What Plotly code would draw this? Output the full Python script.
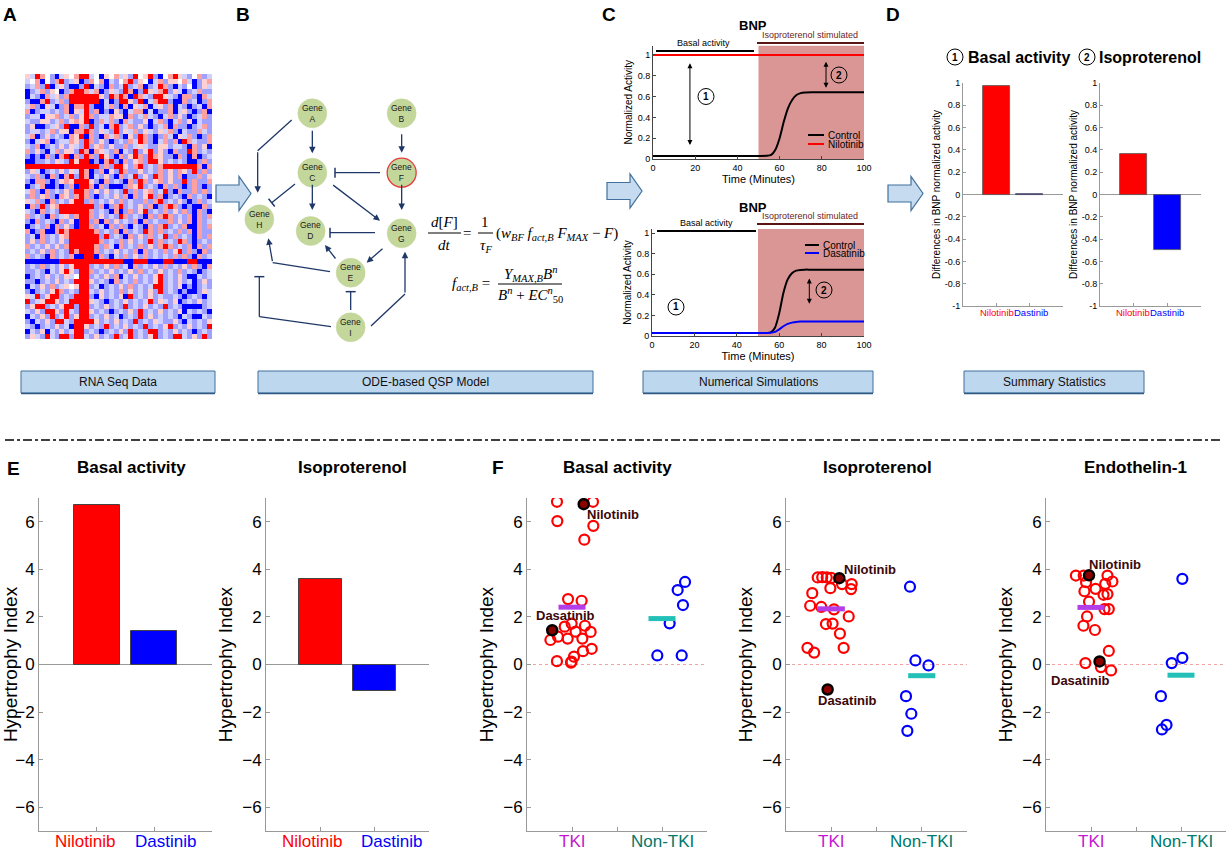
import plotly.graph_objects as go

W, H = 1227, 852
def X(px): return px / W
def Y(py): return 1 - py / H

FONT = "Liberation Sans"

# ---------------- DATA ----------------
# Panel A heatmap (estimated levels): B strong blue, b blue, c pale blue, . white, p pale red, r red, R strong red
heat_rows = [
    "pcRr.bBcp.rRRc.Bp.rcpbR.pRbB.rRpcb.rbc",
    "c.rB.brRbcpBbr.rBcb.rRbp.Bcrbpp.rcBbpr",
    "bcrbRBcpbBBbRBcbBrbcRbcrBbcRrbBcb.Bbpc",
    "Bbcrbp.BbrRRrcrBbpcbRrBbRpcrRbpcBbcrbb",
    "BcbBrcpbrRRRRRRpbRrRrBRrcbRRpcbBrrbBrc",
    "bBBrRbcrbRRRRRRBcBbRRpbRBcrRRbBBrbcBbr",
    "crbBpcBbrBrrRbBBcrbBrBpcrBcpbrBcbBbcBr",
    "rBbccbcbrBpcRbrBbBpbBcrrBcBbbrBcpbBbrB",
    "bccBpprbcrbpRrbccrppBrbcrcbBcrbpbBbcrb",
    "cbbppbcrbprpRBbrcrbBrcbbpBcrbBcrbpBcbb",
    "bpBBbcpbRBBrbRbcBrRbcrbpbBbcrBrbbBbcrb",
    "bccbcrbppBrrRrbpcbRbpcrbpcbpcrbBcbbrcb",
    "crBbpbcbBrpRBrbBrcrbBpbRrbBbrcBpcrbBbr",
    "bBcprBbccrpbRrbpbBbcbrcRrbBcrbrBRrcbbr",
    "cbrBbcbpbpcbRbprbpbbrbcpcbbppbccbBrbpB",
    "rbpbBcrbppbRrBrpcbrBcbRbpRbpbBrbbRrbcb",
    "bBbBrbBrRBrbRrbRpbBrbpRrbRrpbbBrbBrBbc",
    "BBbbcbpcbRpRRBbBrRbBrbprbRRpbcbcbBBbrb",
    "RRRRRRRRRRRRRRRbrbRRpbrRbcbrRRRRRRRrBr",
    "bpcBbcbpbpcRrBbrBpbRrbbpbcbrbpbrpbRbrb",
    "cbrbBrbBrRbRrBcbpbBrbcRbpbRrbpbrBbbrbp",
    "bBrrbBbprpRRRpbBrbcbBrbRrbprbpbbRbrbbr",
    "BbcrBBbBbrBRRrBrbBBBbrpRbcbBrbrbBbrbBb",
    "crbBrbcbpbRRrbpbpbcbRbrbprbcRbBrbbrbrb",
    "brbprbBrpbrRrbBbcbpbrBrbpRbrBbcbBrbcbB",
    "pcrbBrbcbpRRbrbcbpbrbcbbrbrRbcbpbBbrbc",
    "BrbRbprRRRRRRRbrBbrRbcbpbrBbrRrbBbBBrb",
    "cbBrbcbRRRRRRrbcbBrBbrbpRbcbrbpbrbBrbB",
    "rbcbBrbcpbrRRrbpbcbRrbcbBrbrRrbcbrBrbr",
    "bBrbcbBrbpBRRbrBrbpbcbrBrbcbbrbpbrBrbc",
    "BbcbrBrbpbBRRrbcBrbrbBcbBrbrRbcbrBBrbr",
    "rBbrBBrRrRRRRRrbcbrBrbcbRrbrbcbrbrBrbb",
    "bcBrbcbprRRRRRRbRbcbBrbpbrbcRbrbcbBrbr",
    "bpbrbcbpbRRRRRRrbcbrbpbcbRbrbcbRrbBbcb",
    "rbcbpbpbrRRRRRrbrcBrbcbrbpbrRrbcbrBrbr",
    "bcbpbrbcbRrRRRrbcbpbcbrBrbcbrbpRbrbBrb",
    "rbcbBrbcbrBBRRBrbBcbrbpbrbcbcbrbrbBrbc",
    "BBBBBBBRRRRRRRRRRRRRBBRRRBBBRRBBBRRBBB",
    "bcbrbcbpbpRRRbcbpbrbcBrbcbpbrbcbpbrbBr",
    "bbcbBcbpRpbRRrbcbpbcbpbrbcbpbcbrbcbBbc",
    "Bbcbpbcbpc.RRbcbpbrBcbpbcbpRbcbpbBBcbc",
    "bbBbcbpbcbRRRpbcbBrbcbrbcbpRbcbpbcBbpb",
    "Bcbpbrbcp.pRRbcBbcbpbrbcbcRRbcbpBbBbcb",
    "bBbcbpRrbcbRRcbpbcbrbpbcbpbRbcbBbBBbpc",
    "pcRbpRRbcbRRRbBpbcbpBRbcbpbcbbcbBbcbBc",
    "RbcpRRpbcRRRRpcbBbcbpbcbcRbpcbpBbcbpbc",
    "bpRRbcbpRRbRRbcbpbcbRbcbpbcbRbcbBBBBbc",
    "cbpbRRpbRcbRRpbcbBbcbpbRbcbpbcbpBcbcbB",
    "BcbpbRbcRbpRRbcbpbcBbcbRbpbcbcbBcbBBcb",
    "bBcbpbRRcbRRRRpbcbpbcbRbcbpcbbpbBcbcbp",
    "cbBbcbpbcBRRpbcbRbcbpbcbRbcbpRbcbpbcbR",
    "BcbpBcbpbcRRbcbBbcbpbRbcbRRbcbpbcbBbcb",
    "bpcbRcbRRbRRcbpbcbRbcRbcbpRbcbRRcbpbRb",
]
heat_levels = {"B": -2, "b": -1, "c": -0.5, ".": 0, "p": 0.5, "r": 1, "R": 2}

# Panel C simulations
sim_time = [0, 50, 54, 56, 58, 60, 62, 64, 66, 68, 70, 72, 75, 100]
ctrl_top = [0.03, 0.03, 0.031, 0.04, 0.09, 0.20, 0.36, 0.49, 0.57, 0.615, 0.633, 0.64, 0.642, 0.642]
nilo_time = [0, 100]
nilo_top = [1.0, 1.0]
ctrl_bot = [0.03, 0.03, 0.03, 0.035, 0.08, 0.22, 0.42, 0.55, 0.61, 0.635, 0.642, 0.645, 0.645, 0.645]
dasa_bot = [0.03, 0.03, 0.03, 0.031, 0.04, 0.065, 0.095, 0.118, 0.13, 0.137, 0.14, 0.142, 0.142, 0.142]

# Panel D and E bars
drug_pos = [1, 2]
drug_names = ["Nilotinib", "Dastinib"]
drug_colors = ["#ff0000", "#0000ff"]
d_basal = [0.97, 0.004]
d_iso = [0.36, -0.50]
e_basal = [6.7, 1.4]
e_iso = [3.6, -1.1]

# Panel F scatter (x = group position with spread, y = hypertrophy index)
f_groups = ["TKI", "Non-TKI"]
f_group_colors = ["#c218d0", "#00786c"]
fb_tki_x = [0.833, 1.233, 0.837, 1.237, 1.137, 0.956, 1.107, 0.76, 0.844, 0.919, 0.996, 1.04, 1.144,
            1.207, 0.952, 1.115, 1.022, 1.122, 1.219, 0.833, 0.989, 0.995]
fb_tki_y = [6.84, 6.84, 6.03, 5.83, 5.25, 2.75, 2.68, 1.03, 1.17, 1.59, 1.72, 1.38, 1.63,
            1.37, 1.09, 1.09, 0.33, 0.56, 0.66, 0.14, 0.08, 0.12]
fb_non_x = [2.256, 2.174, 2.233, 2.085, 1.948, 2.219]
fb_non_y = [3.47, 3.13, 2.50, 1.73, 0.38, 0.38]
fb_nilo = [1.13, 6.74]
fb_dasa = [0.78, 1.44]
fb_means = [2.41, 1.93]

fi_tki_x = [0.85, 0.90, 0.95, 1.0, 0.99, 1.119, 1.226, 1.219, 0.79, 0.767, 0.89, 1.03, 1.193,
            0.941, 1.015, 1.096, 1.137, 0.737, 0.811]
fi_tki_y = [3.66, 3.67, 3.66, 3.64, 3.21, 3.38, 3.38, 3.17, 3.0, 2.47, 2.42, 2.32, 2.02,
            1.70, 1.72, 1.30, 0.70, 0.70, 0.50]
fi_non_x = [1.870, 1.93, 2.074, 1.826, 1.885, 1.841]
fi_non_y = [3.27, 0.17, -0.04, -1.33, -2.07, -2.79]
fi_nilo = [1.089, 3.63]
fi_dasa = [0.96, -1.05]
fi_means = [2.34, -0.47]

fe_tki_x = [0.832, 0.919, 1.183, 0.945, 1.238, 1.158, 1.051, 0.927, 1.183, 1.139, 0.978, 1.150,
            1.198, 0.956, 0.916, 1.044, 1.198, 0.938, 1.11, 1.223]
fe_tki_y = [3.74, 3.74, 3.74, 3.46, 3.49, 3.39, 3.18, 3.08, 2.96, 2.93, 2.64, 2.33,
            2.33, 2.02, 1.63, 1.45, 0.57, 0.06, -0.11, -0.25]
fe_non_x = [2.015, 2.015, 1.897, 1.777, 1.839, 1.788]
fe_non_y = [3.60, 0.28, 0.06, -1.33, -2.54, -2.73]
fe_nilo = [0.978, 3.75]
fe_dasa = [1.095, 0.13]
fe_means = [2.40, -0.45]

# ---------------- FIGURE ----------------
fig = go.Figure()
shapes = []
annotations = []

def line_px(x0, y0, x1, y1, color="black", width=1, dash=None, layer="above"):
    d = dict(color=color, width=width)
    if dash:
        d["dash"] = dash
    shapes.append(dict(type="line", xref="paper", yref="paper", x0=X(x0), y0=Y(y0),
                       x1=X(x1), y1=Y(y1), line=d, layer=layer))

def text_px(x, y, txt, size=12, color="black", xanchor="center", yanchor="middle", family=FONT):
    annotations.append(dict(x=X(x), y=Y(y), xref="paper", yref="paper", text=txt, showarrow=False,
                            xanchor=xanchor, yanchor=yanchor, font=dict(size=size, color=color, family=family)))

def arrow_px(x0, y0, x1, y1, color, width=1.3, head=2, size=1.0):
    annotations.append(dict(x=X(x1), y=Y(y1), xref="paper", yref="paper", ax=x0 - x1, ay=y0 - y1,
                            axref="pixel", ayref="pixel", text="", showarrow=True, arrowhead=head,
                            arrowsize=size, arrowwidth=width, arrowcolor=color, standoff=0, startstandoff=0))

def circle_px(cx, cy, r, fill=None, color="black", width=1, layer="above"):
    shapes.append(dict(type="circle", xref="paper", yref="paper", x0=X(cx - r), x1=X(cx + r),
                       y0=Y(cy + r), y1=Y(cy - r), fillcolor=fill or "rgba(0,0,0,0)",
                       line=dict(color=color, width=width), layer=layer))

def rect_px(x0, y0, x1, y1, fill, color, width=1, layer="above"):
    shapes.append(dict(type="rect", xref="paper", yref="paper", x0=X(x0), x1=X(x1), y0=Y(y1), y1=Y(y0),
                       fillcolor=fill, line=dict(color=color, width=width), layer=layer))

def block_arrow(x0, xh, x1, yc, bh, hh):
    pts = [(x0, yc - bh / 2), (xh, yc - bh / 2), (xh, yc - hh / 2), (x1, yc), (xh, yc + hh / 2),
           (xh, yc + bh / 2), (x0, yc + bh / 2)]
    path = "M " + " L ".join(f"{X(a):.5f},{Y(b):.5f}" for a, b in pts) + " Z"
    shapes.append(dict(type="path", xref="paper", yref="paper", path=path, fillcolor="#c6dbef",
                       line=dict(color="#41719c", width=1.2), layer="above"))

# ---- Panel A heatmap
z = [[heat_levels.get(c, 0) for c in row[:38].ljust(38, ".")] for row in heat_rows]
fig.add_trace(go.Heatmap(z=z, xaxis="x", yaxis="y", zmin=-2, zmax=2, showscale=False, hoverinfo="skip",
                         colorscale=[[0, "#0000ff"], [0.25, "#a0a0ff"], [0.5, "#ffffff"],
                                     [0.75, "#ffa0a0"], [1, "#ff0000"]]))

# ---- Panel C
fig.add_trace(go.Scatter(x=sim_time, y=ctrl_top, mode="lines", line=dict(color="black", width=2, shape="spline", smoothing=0.6),
                         xaxis="x2", yaxis="y2", showlegend=False))
fig.add_trace(go.Scatter(x=nilo_time, y=nilo_top, mode="lines", line=dict(color="#ff0000", width=2),
                         xaxis="x2", yaxis="y2", showlegend=False))
fig.add_trace(go.Scatter(x=sim_time, y=ctrl_bot, mode="lines", line=dict(color="black", width=2, shape="spline", smoothing=0.6),
                         xaxis="x3", yaxis="y3", showlegend=False))
fig.add_trace(go.Scatter(x=sim_time, y=dasa_bot, mode="lines", line=dict(color="#0000ff", width=2, shape="spline", smoothing=0.6),
                         xaxis="x3", yaxis="y3", showlegend=False))
for xa, ya, top in (("x2", "y2", 1.09), ("x3", "y3", 1.04)):
    shapes.append(dict(type="rect", xref=xa, yref=ya, x0=50, x1=100, y0=0, y1=top, fillcolor="#d99694",
                       line=dict(width=0), layer="below"))

# ---- Panel D bars
fig.add_trace(go.Bar(x=drug_pos, y=d_basal, marker=dict(color=drug_colors, line=dict(color="#555", width=0.8)),
                     width=0.8, xaxis="x4", yaxis="y4", showlegend=False))
fig.add_trace(go.Bar(x=drug_pos, y=d_iso, marker=dict(color=drug_colors, line=dict(color="#555", width=0.8)),
                     width=0.8, xaxis="x5", yaxis="y5", showlegend=False))
# ---- Panel E bars
fig.add_trace(go.Bar(x=drug_pos, y=e_basal, marker=dict(color=drug_colors, line=dict(color="#444", width=1)),
                     width=0.8, xaxis="x6", yaxis="y6", showlegend=False))
fig.add_trace(go.Bar(x=drug_pos, y=e_iso, marker=dict(color=drug_colors, line=dict(color="#444", width=1)),
                     width=0.8, xaxis="x7", yaxis="y7", showlegend=False))

# ---- Panel F scatter
F_SETS = [
    ("x8", "y8", fb_tki_x, fb_tki_y, fb_non_x, fb_non_y, fb_nilo, fb_dasa, fb_means),
    ("x9", "y9", fi_tki_x, fi_tki_y, fi_non_x, fi_non_y, fi_nilo, fi_dasa, fi_means),
    ("x10", "y10", fe_tki_x, fe_tki_y, fe_non_x, fe_non_y, fe_nilo, fe_dasa, fe_means),
]
for xa, ya, tx, ty, nx, ny, nilo, dasa, means in F_SETS:
    shapes.append(dict(type="line", xref=xa, yref=ya, x0=0.5, x1=2.5, y0=0, y1=0,
                       line=dict(color="#f3a3a3", width=1, dash="dot"), layer="below"))
    fig.add_trace(go.Scatter(x=tx, y=ty, mode="markers", xaxis=xa, yaxis=ya, showlegend=False,
                             marker=dict(symbol="circle-open", size=10, color="#ff0000", line=dict(width=2.2))))
    fig.add_trace(go.Scatter(x=nx, y=ny, mode="markers", xaxis=xa, yaxis=ya, showlegend=False,
                             marker=dict(symbol="circle-open", size=10, color="#0000ff", line=dict(width=2.2))))
    fig.add_trace(go.Scatter(x=[1 - 0.15, 1 + 0.15], y=[means[0], means[0]], mode="lines", xaxis=xa, yaxis=ya,
                             showlegend=False, line=dict(color="#b33de8", width=5)))
    fig.add_trace(go.Scatter(x=[2 - 0.15, 2 + 0.15], y=[means[1], means[1]], mode="lines", xaxis=xa, yaxis=ya,
                             showlegend=False, line=dict(color="#22c0b6", width=5)))
    fig.add_trace(go.Scatter(x=[nilo[0], dasa[0]], y=[nilo[1], dasa[1]], mode="markers", xaxis=xa, yaxis=ya,
                             showlegend=False, marker=dict(symbol="circle", size=10, color="#8a0000",
                                                           line=dict(color="black", width=2.5))))

# ---------------- AXES ----------------
def dom_x(a, b): return [X(a), X(b)]
def dom_y(top, bottom): return [Y(bottom), Y(top)]

layout_axes = {}
layout_axes["xaxis"] = dict(domain=dom_x(25, 212), anchor="y", visible=False, range=[-0.5, 37.5])
layout_axes["yaxis"] = dict(domain=dom_y(74, 339), anchor="x", visible=False, range=[52.5, -0.5])

c_tick = dict(size=9, color="black", family=FONT)
for i, (xd, yd, ytop) in {2: ((653, 864), (45.6, 159), 1.09), 3: ((652, 864), (229, 336), 1.04)}.items():
    layout_axes[f"xaxis{i}"] = dict(domain=dom_x(*xd), anchor=f"y{i}", range=[0, 100], showline=True,
                                    linecolor="#444", ticks="inside", ticklen=3, tickcolor="#444",
                                    tickvals=[0, 20, 40, 60, 80, 100], tickfont=c_tick, showgrid=False,
                                    zeroline=False, tickangle=0,
                                    title=dict(text="Time (Minutes)", font=dict(size=11, family=FONT), standoff=1))
    layout_axes[f"yaxis{i}"] = dict(domain=dom_y(*yd), anchor=f"x{i}", range=[0, ytop], showline=True,
                                    linecolor="#444", ticks="inside", ticklen=3, tickcolor="#444",
                                    tickvals=[0, 0.2, 0.4, 0.6, 0.8, 1], ticktext=["0", "0.2", "0.4", "0.6", "0.8", "1"],
                                    tickfont=c_tick, showgrid=False, zeroline=False,
                                    title=dict(text="Normalized Activity", font=dict(size=10, family=FONT), standoff=3))

d_vals = [-1, -0.8, -0.6, -0.4, -0.2, 0, 0.2, 0.4, 0.6, 0.8, 1]
d_text = ["-1", "-0.8", "-0.6", "-0.4", "-0.2", "0", "0.2", "0.4", "0.6", "0.8", "1"]
for i, xd in {4: (963, 1063), 5: (1100, 1201)}.items():
    layout_axes[f"xaxis{i}"] = dict(domain=dom_x(*xd), anchor=f"y{i}", range=[0, 3], showline=True,
                                    linecolor="#999", ticks="inside", ticklen=3, tickcolor="#999",
                                    tickvals=drug_pos, showticklabels=False, showgrid=False, zeroline=False)
    layout_axes[f"yaxis{i}"] = dict(domain=dom_y(83, 306), anchor=f"x{i}", range=[-1, 1], showline=True,
                                    linecolor="#999", ticks="inside", ticklen=3, tickcolor="#999",
                                    tickvals=d_vals, ticktext=d_text, tickfont=dict(size=9, family=FONT, color="black"),
                                    showgrid=False, zeroline=True, zerolinecolor="#999", zerolinewidth=1,
                                    title=dict(text="Differences in BNP normalized activity",
                                               font=dict(size=10, family=FONT), standoff=2))

big_tick = dict(size=17, family=FONT, color="black")
hi_vals = [-6, -4, -2, 0, 2, 4, 6]
for i, xd in {6: (39, 212), 7: (266, 429)}.items():
    layout_axes[f"xaxis{i}"] = dict(domain=dom_x(*xd), anchor=f"y{i}", range=[0, 3], showline=True,
                                    linecolor="#999", ticks="inside", ticklen=4, tickcolor="#999",
                                    tickvals=drug_pos, showticklabels=False, showgrid=False, zeroline=False)
f_dom = {8: (527, 707), 9: (786, 967), 10: (1046, 1226)}
for i, xd in f_dom.items():
    layout_axes[f"xaxis{i}"] = dict(domain=dom_x(*xd), anchor=f"y{i}", range=[0.5, 2.5], showline=True,
                                    linecolor="#999", ticks="inside", ticklen=4, tickcolor="#999",
                                    tickvals=[1, 1.5, 2, 2.5], showticklabels=False, showgrid=False, zeroline=False)
    # group labels under the F axes (positioned at x = 1 and x = 2 of each axis)
    for gi, g in enumerate(f_groups):
        annotations.append(dict(x=gi + 1, y=Y(841), xref=f"x{i}", yref="paper", text=g, showarrow=False,
                                xanchor="center", yanchor="middle", borderpad=0,
                                font=dict(size=17, color=f_group_colors[gi], family=FONT)))
for i in range(6, 11):
    layout_axes[f"yaxis{i}"] = dict(domain=dom_y(498, 831), anchor=f"x{i}", range=[-7, 7], showline=True,
                                    linecolor="#999", ticks="inside", ticklen=4, tickcolor="#999",
                                    tickvals=hi_vals, tickfont=big_tick, showgrid=False,
                                    zeroline=(i in (6, 7)), zerolinecolor="#999", zerolinewidth=1,
                                    title=dict(text="Hypertrophy Index", font=dict(size=19, family=FONT), standoff=4))
for k in layout_axes:
    layout_axes[k]["automargin"] = False

# Drug category labels for D and E (placed like the reference, slightly spread apart)
for (c1, c2), yl, sz in (((997, 1031), 313, 9.5), ((1133, 1167), 313, 9.5),
                         ((85, 165), 841, 17), ((312, 392), 841, 17)):
    text_px(c1, yl, drug_names[0], sz, color=drug_colors[0])
    text_px(c2, yl, drug_names[1], sz, color=drug_colors[1])

# ---------------- DECORATIONS ----------------
# Panel letters
for L, (lx, ly) in {"A": (10, 15), "B": (243, 15), "C": (609, 14), "D": (893, 14), "E": (13, 468), "F": (498, 467)}.items():
    text_px(lx, ly, f"<b>{L}</b>", size=19)

# Blue label boxes
for (x0, x1), lab in zip([(21, 215), (258, 593), (643, 873), (964, 1144)],
                         ["RNA Seq Data", "ODE-based QSP Model", "Numerical Simulations", "Summary Statistics"]):
    rect_px(x0, 371, x1, 393, "#bdd7ee", "#41719c", 1)
    line_px(x0, 393.5, x1, 393.5, "#2e5a85", 1.5)
    text_px((x0 + x1) / 2, 382, lab, size=12, color="#111")

# Dash-dot separator
line_px(5, 440, 1222, 440, "black", 1.5, dash="dashdot")

# Block arrows
block_arrow(216, 239, 251, 193.5, 17, 34)
block_arrow(607, 630, 642, 191, 17, 34)
block_arrow(888, 911, 923, 193.5, 17, 34)

# ---- Panel B network
navy = "#1f3868"
def zc(zx, zy): return (zx / 3 + 230, zy / 3 + 70)
nodes = {"A": (247, 130), "B": (515, 130), "C": (247, 308), "F": (515, 308), "H": (88, 448),
         "D": (242, 483), "G": (515, 490), "E": (362, 608), "I": (362, 772)}
act_edges = [((247, 178), (247, 250)), ((515, 188), (515, 248)), ((247, 340), (247, 420)),
             ((305, 342), (450, 452)), ((515, 340), (515, 420)), ((462, 532), (410, 578)),
             ((320, 570), (285, 525)), ((83, 242), (83, 368)), ((128, 578), (115, 505)),
             ((525, 672), (525, 545))]
plain_segs = [((185, 150), (83, 242)), ((300, 605), (128, 578)), ((423, 768), (525, 672)),
              ((303, 770), (88, 740))]
inh_edges = [((450, 308), (315, 308)), ((195, 342), (125, 398)), ((435, 488), (300, 488)),
             ((362, 720), (362, 665)), ((88, 740), (88, 620))]
for a, b in plain_segs:
    pa, pb = zc(*a), zc(*b)
    line_px(pa[0], pa[1], pb[0], pb[1], navy, 1.3)
for a, b in act_edges:
    pa, pb = zc(*a), zc(*b)
    arrow_px(pa[0], pa[1], pb[0], pb[1], navy, width=1.3, head=2, size=1.0)
for a, b in inh_edges:
    pa, pb = zc(*a), zc(*b)
    line_px(pa[0], pa[1], pb[0], pb[1], navy, 1.3)
    dx, dy = pb[0] - pa[0], pb[1] - pa[1]
    n = (dx * dx + dy * dy) ** 0.5
    nx, ny = -dy / n * 5, dx / n * 5
    line_px(pb[0] - nx, pb[1] - ny, pb[0] + nx, pb[1] + ny, navy, 1.5)
for k, (zx, zy) in nodes.items():
    cx, cy = zc(zx, zy)
    circle_px(cx, cy, 14.5, fill="#c4d79b", color="#e53b3b" if k == "F" else "#c4d79b",
              width=1.3 if k == "F" else 0.5)
    text_px(cx, cy, f"Gene<br>{k}", size=8.5, color="#1a1a1a")

# Equations
SERIF = "Liberation Serif"
text_px(444, 222, "<i>d</i>[<i>F</i>]", 15, family=SERIF)
line_px(428, 233, 461, 233, "black", 1)
text_px(444, 245, "<i>dt</i>", 15, family=SERIF)
text_px(467, 233, "=", 15, family=SERIF)
text_px(485, 222, "1", 15, family=SERIF)
line_px(478, 233, 493, 233, "black", 1)
text_px(486, 246, "<i>τ<sub>F</sub></i>", 15, family=SERIF)
text_px(494, 234, "(<i>w<sub>BF</sub> f<sub>act,B</sub> F<sub>MAX</sub></i> − <i>F</i>)", 15,
        xanchor="left", family=SERIF)
text_px(492, 284, "<i>f<sub>act,B</sub></i> =", 15, xanchor="right", family=SERIF)
text_px(530, 274, "<i>Y<sub>MAX,B</sub>B<sup>n</sup></i>", 15, family=SERIF)
line_px(498, 284, 562, 284, "black", 1)
text_px(530, 295, "<i>B<sup>n</sup></i> + <i>EC</i><sup><i>n</i></sup><sub>50</sub>", 15, family=SERIF)

# ---- Panel C annotations
text_px(753, 25, "<b>BNP</b>", 13)
text_px(753, 207, "<b>BNP</b>", 13)
text_px(703, 43, "Basal activity", 9)
line_px(656, 51, 754, 51, "black", 2)
text_px(810, 35, "Isoproterenol stimulated", 9, color="#6b1d1d")
line_px(757, 43, 864, 43, "#5a1414", 2)
text_px(706, 223, "Basal activity", 9)
line_px(657, 231, 756, 231, "black", 2)
text_px(810, 216, "Isoproterenol stimulated", 9, color="#6b1d1d")
line_px(757, 224, 864, 224, "#5a1414", 2)

for xa, ya, xv, y0, y1 in (("x2", "y2", 17.5, 0.12, 0.92), ("x2", "y2", 82, 0.67, 0.935), ("x3", "y3", 74.2, 0.30, 0.56)):
    annotations.append(dict(x=xv, y=y1, ax=xv, ay=y0, xref=xa, yref=ya, axref=xa, ayref=ya, text="",
                            showarrow=True, arrowhead=2, startarrowhead=2, arrowside="end+start",
                            arrowsize=1, startarrowsize=1, arrowwidth=1, arrowcolor="black"))
for (cx, cy), num in (((706, 96.5), "1"), ((839, 75), "2"), ((676, 307), "1"), ((824, 290), "2")):
    circle_px(cx, cy, 8, fill="rgba(0,0,0,0)", color="black", width=1)
    text_px(cx, cy, f"<b>{num}</b>", 10)

# Panel C legends
line_px(808, 135, 824, 135, "black", 2)
text_px(826, 135, "Control", 10, xanchor="left")
line_px(808, 144, 824, 144, "#ff0000", 2)
text_px(826, 144, "Nilotinib", 10, xanchor="left")
line_px(805, 245, 819, 245, "black", 2)
text_px(821, 245, "Control", 10, xanchor="left")
line_px(805, 253, 819, 253, "#0000ff", 2)
text_px(821, 253, "Dasatinib", 10, xanchor="left")

# ---- Panel D titles
circle_px(955, 57, 8, color="black", width=1)
text_px(955, 57, "<b>1</b>", 10)
text_px(966, 57, "<b>Basal activity</b>", 16, xanchor="left")
circle_px(1087, 57, 8, color="black", width=1)
text_px(1087, 57, "<b>2</b>", 10)
text_px(1097, 57, "<b>Isoproterenol</b>", 16, xanchor="left")

# ---- Panel E / F titles
for cx, t in ((131, "Basal activity"), (352, "Isoproterenol"), (617, "Basal activity"),
              (877, "Isoproterenol"), (1135, "Endothelin-1")):
    text_px(cx, 467, f"<b>{t}</b>", 17)

# Panel F drug labels (data coordinates)
lab_col = "#3c0808"
for xa, ya, nl, dl in (
        ("x8", "y8", (1.148, 6.31, "left"), (0.93, 2.07, "center")),
        ("x9", "y9", (1.119, 3.98, "left"), (1.18, -1.51, "center")),
        ("x10", "y10", (0.956, 4.19, "left"), (0.883, -0.67, "center"))):
    annotations.append(dict(x=nl[0], y=nl[1], xref=xa, yref=ya, text="<b>Nilotinib</b>", showarrow=False,
                            xanchor=nl[2], font=dict(size=13, color=lab_col, family=FONT)))
    annotations.append(dict(x=dl[0], y=dl[1], xref=xa, yref=ya, text="<b>Dasatinib</b>", showarrow=False,
                            xanchor=dl[2], font=dict(size=13, color=lab_col, family=FONT)))

fig.update_layout(width=W, height=H, margin=dict(l=0, r=0, t=0, b=0, autoexpand=False), paper_bgcolor="white",
                  plot_bgcolor="rgba(0,0,0,0)", shapes=shapes, annotations=annotations,
                  font=dict(family=FONT, color="black"), bargap=0, **layout_axes)

fig.write_html("out.html", config={"displayModeBar": False},
               post_script="document.body.style.margin='0';document.body.style.overflow='hidden';")
